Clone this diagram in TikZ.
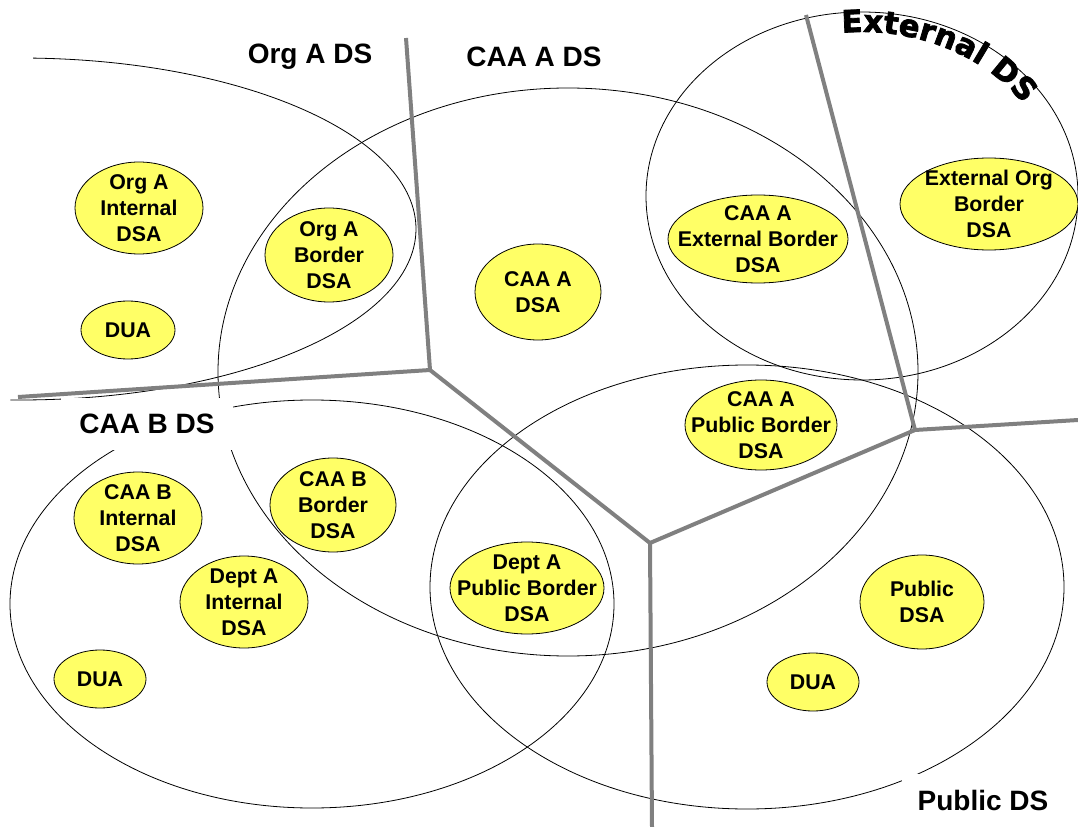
\documentclass[tikz,border=0pt]{standalone}
\usepackage{fontspec}
\setmainfont{Liberation Sans}
\newfontfamily\extfam{DejaVu Sans Bold}[FakeBold=2.5]
\usetikzlibrary{shapes.geometric,decorations.text}
\definecolor{dsayellow}{RGB}{255,255,102}
\definecolor{cutgray}{RGB}{128,128,128}

\tikzset{
  ds/.style={draw, line width=0.6pt},
  dsa/.style={draw, ellipse, fill=dsayellow, inner sep=0pt, line width=0.6pt},
  dsatext/.style={align=center, font=\bfseries\fontsize{16}{19.5}\selectfont},
  dsname/.style={font=\bfseries\fontsize{21}{24}\selectfont},
  cut/.style={draw=cutgray, line width=3pt},
}

\begin{document}
\begin{tikzpicture}[x=0.75pt, y=-0.75pt]
  \useasboundingbox (0,0) rectangle (1078,827);

  \draw[ds] (20,229) ++(-88.1:396 and 171) arc[start angle=-88.1, end angle=91.4, x radius=396, y radius=171];
  \draw[ds] (568,372) ellipse [x radius=350, y radius=284];
  \draw[ds] (862,196) ellipse [x radius=216, y radius=184];
  \draw[ds] (312,604) ellipse [x radius=302, y radius=204];
  \draw[ds] (747,587) ellipse [x radius=317, y radius=222];

  \node[dsname] (orgAds) at (310,57) {Org A DS};
  \node[dsname] (caaAds) at (534,57) {CAA A DS};
  \node[dsname, fill=white, inner xsep=14pt, inner ysep=12pt] (caaBds) at (147,424) {CAA B DS};
  \node[dsname, fill=white, inner xsep=12pt, inner ysep=12pt] (pubds) at (983,800) {Public DS};
  \path[decorate, decoration={text along path, text align=center,
      text={|\extfam\fontsize{23}{23}\selectfont|External DS}}]
    (862,196) ++(-104:195 and 164) arc[start angle=-104, end angle=-25, x radius=195, y radius=164];

  \coordinate (j1) at (430,370);
  \coordinate (j2) at (650,543);
  \coordinate (j3) at (915,430);
  \coordinate (t1) at (406,38);
  \coordinate (l1) at (18,397);
  \coordinate (b2) at (652,827);
  \coordinate (t3) at (806,15);
  \coordinate (r3) at (1078,420);

  \draw[cut] (t1) -- (j1) -- (l1);
  \draw[cut] (j1) -- (j2) -- (b2);
  \draw[cut] (j2) -- (j3) -- (r3);
  \draw[cut] (t3) -- (j3);

  \node[dsa, minimum width=96pt, minimum height=69pt, label={[dsatext]center:Org A\\Internal\\DSA}] (orgAint) at (139,208) {};
  \node[dsa, minimum width=70.5pt, minimum height=43.5pt, label={[dsatext]center:DUA}] (duaA) at (128,330) {};
  \node[dsa, minimum width=96pt, minimum height=70.5pt, label={[dsatext]center:Org A\\Border\\DSA}] (orgAbor) at (329,255) {};
  \node[dsa, minimum width=94.5pt, minimum height=72pt, label={[dsatext]center:CAA A\\DSA}] (caaAdsa) at (538,292) {};
  \node[dsa, minimum width=135pt, minimum height=66pt, label={[dsatext]center:CAA A\\External Border\\DSA}] (caaAext) at (758,239) {};
  \node[dsa, minimum width=133.5pt, minimum height=69pt, label={[dsatext]center:External Org\\Border\\DSA}] (extorg) at (989,204) {};
  \node[dsa, minimum width=114pt, minimum height=67.5pt, label={[dsatext]center:CAA A\\Public Border\\DSA}] (caaApub) at (761,425) {};

  \node[dsa, minimum width=96pt, minimum height=69pt, label={[dsatext]center:CAA B\\Internal\\DSA}] (caaBint) at (138,518) {};
  \node[dsa, minimum width=94.5pt, minimum height=70.5pt, label={[dsatext]center:CAA B\\Border\\DSA}] (caaBbor) at (333,505) {};
  \node[dsa, minimum width=96pt, minimum height=69pt, label={[dsatext]center:Dept A\\Internal\\DSA}] (deptAint) at (244,602) {};
  \node[dsa, minimum width=69pt, minimum height=43.5pt, label={[dsatext]center:DUA}] (duaB) at (100,679) {};
  \node[dsa, minimum width=115.5pt, minimum height=69pt, label={[dsatext]center:Dept A\\Public Border\\DSA}] (deptApub) at (527,588) {};

  \node[dsa, minimum width=93pt, minimum height=70.5pt, label={[dsatext]center:Public\\DSA}] (pubdsa) at (922,602) {};
  \node[dsa, minimum width=69pt, minimum height=43.5pt, label={[dsatext]center:DUA}] (duaP) at (813,682) {};
\end{tikzpicture}
\end{document}
